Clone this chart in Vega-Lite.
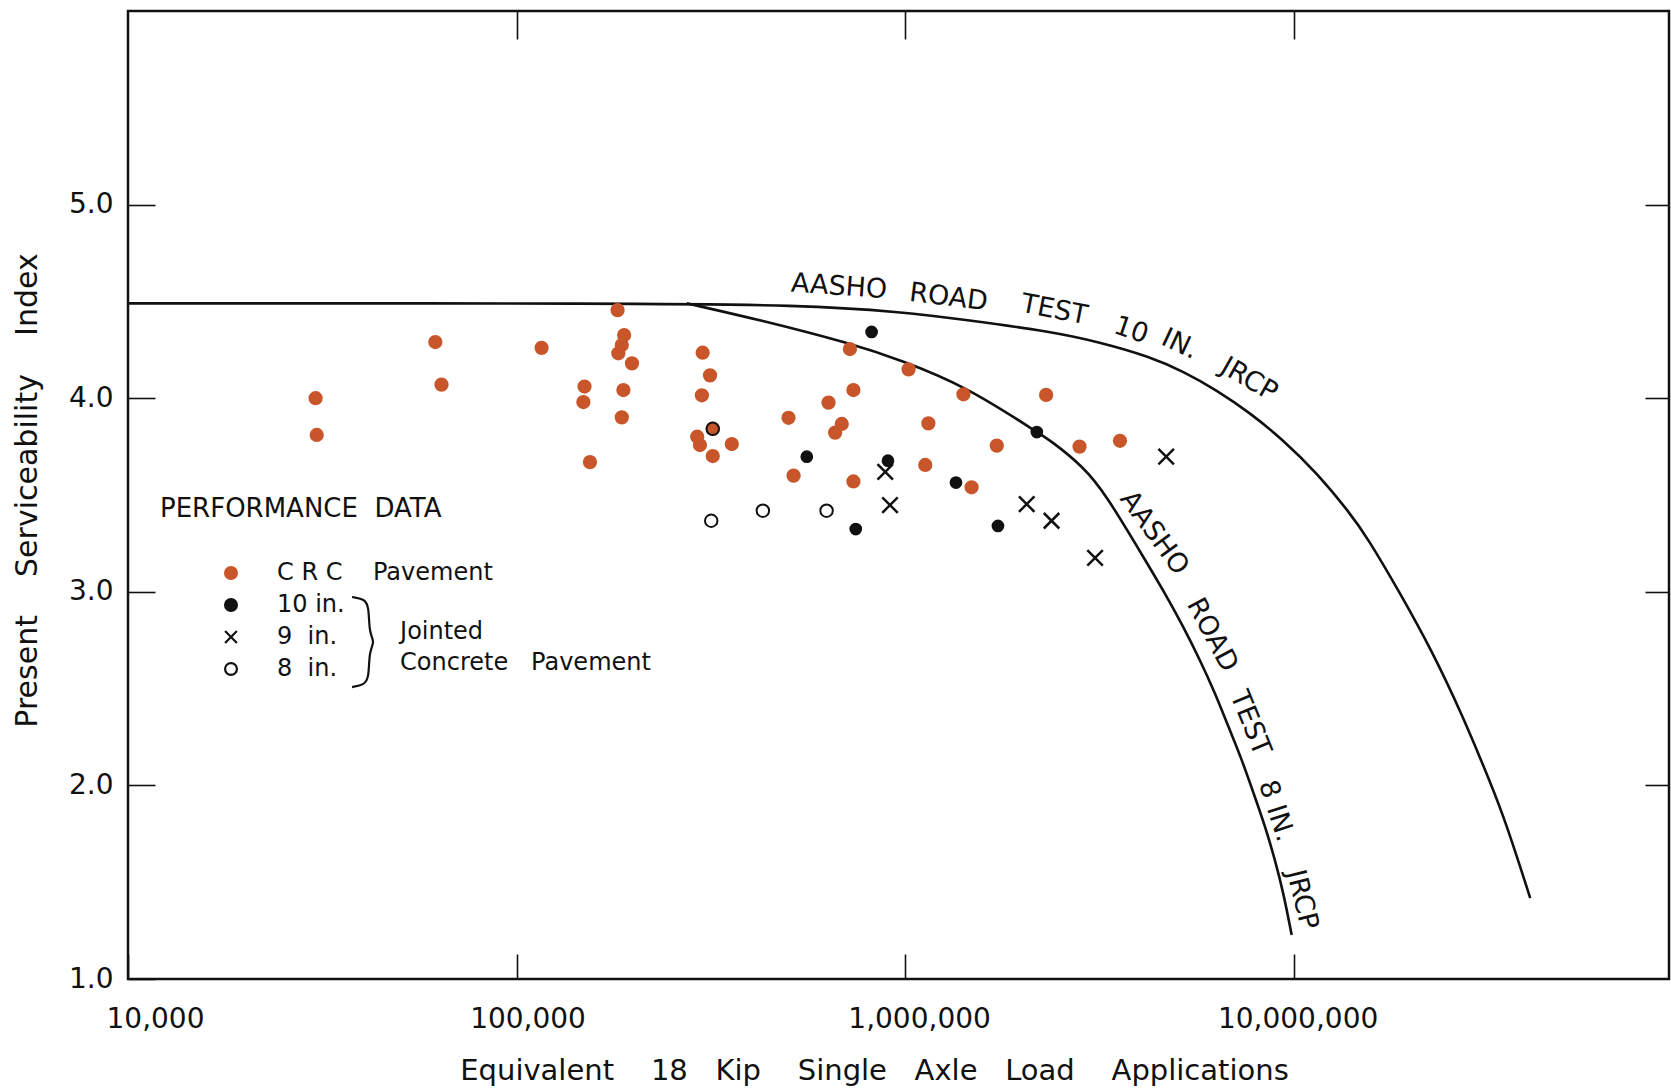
{
  "$schema": "https://vega.github.io/schema/vega-lite/v6.json",
  "width": 1541,
  "height": 968,
  "autosize": {"type": "none"},
  "padding": {"left": 128, "top": 11, "right": 2, "bottom": 111},
  "background": "white",
  "config": {
    "font": "DejaVu Sans",
    "view": {"stroke": "#111111", "strokeWidth": 2.5},
    "axis": {"domain": false, "grid": false, "tickColor": "#111111", "tickWidth": 1.6, "labelColor": "#111111", "titleColor": "#111111", "labelFont": "DejaVu Sans", "titleFont": "DejaVu Sans", "titleFontWeight": "normal"}
  },
  "resolve": {"axis": {"x": "independent", "y": "independent"}},
  "datasets": {
    "curves": [
      {"curve": "10 in.", "esal": 10000, "psi": 4.49},
      {"curve": "10 in.", "esal": 199500, "psi": 4.49},
      {"curve": "10 in.", "esal": 537000, "psi": 4.481},
      {"curve": "10 in.", "esal": 970500, "psi": 4.447},
      {"curve": "10 in.", "esal": 1442000, "psi": 4.404},
      {"curve": "10 in.", "esal": 2360000, "psi": 4.345},
      {"curve": "10 in.", "esal": 3162000, "psi": 4.29},
      {"curve": "10 in.", "esal": 4276000, "psi": 4.214},
      {"curve": "10 in.", "esal": 5200000, "psi": 4.138},
      {"curve": "10 in.", "esal": 6339000, "psi": 4.042},
      {"curve": "10 in.", "esal": 7727000, "psi": 3.924},
      {"curve": "10 in.", "esal": 9397000, "psi": 3.784},
      {"curve": "10 in.", "esal": 11480000, "psi": 3.614},
      {"curve": "10 in.", "esal": 13960000, "psi": 3.407},
      {"curve": "10 in.", "esal": 15450000, "psi": 3.283},
      {"curve": "10 in.", "esal": 18790000, "psi": 2.994},
      {"curve": "10 in.", "esal": 22860000, "psi": 2.684},
      {"curve": "10 in.", "esal": 27290000, "psi": 2.353},
      {"curve": "10 in.", "esal": 30130000, "psi": 2.147},
      {"curve": "10 in.", "esal": 34590000, "psi": 1.857},
      {"curve": "10 in.", "esal": 40640000, "psi": 1.418},
      {"curve": "8 in.", "esal": 274200, "psi": 4.49},
      {"curve": "8 in.", "esal": 423600, "psi": 4.404},
      {"curve": "8 in.", "esal": 721100, "psi": 4.284},
      {"curve": "8 in.", "esal": 970500, "psi": 4.198},
      {"curve": "8 in.", "esal": 1442000, "psi": 4.059},
      {"curve": "8 in.", "esal": 2183000, "psi": 3.825},
      {"curve": "8 in.", "esal": 2360000, "psi": 3.784},
      {"curve": "8 in.", "esal": 2877000, "psi": 3.646},
      {"curve": "8 in.", "esal": 3273000, "psi": 3.509},
      {"curve": "8 in.", "esal": 4150000, "psi": 3.164},
      {"curve": "8 in.", "esal": 4667000, "psi": 2.992},
      {"curve": "8 in.", "esal": 5200000, "psi": 2.82},
      {"curve": "8 in.", "esal": 5741000, "psi": 2.648},
      {"curve": "8 in.", "esal": 6281000, "psi": 2.476},
      {"curve": "8 in.", "esal": 6792000, "psi": 2.304},
      {"curve": "8 in.", "esal": 7362000, "psi": 2.132},
      {"curve": "8 in.", "esal": 7889000, "psi": 1.959},
      {"curve": "8 in.", "esal": 8453000, "psi": 1.787},
      {"curve": "8 in.", "esal": 8954000, "psi": 1.615},
      {"curve": "8 in.", "esal": 9419000, "psi": 1.443},
      {"curve": "8 in.", "esal": 9886000, "psi": 1.227}
    ],
    "perf": [
      {"type": "CRC", "esal": 30400, "psi": 4.0},
      {"type": "CRC", "esal": 30600, "psi": 3.81},
      {"type": "CRC", "esal": 61800, "psi": 4.29},
      {"type": "CRC", "esal": 64100, "psi": 4.07},
      {"type": "CRC", "esal": 116000, "psi": 4.26},
      {"type": "CRC", "esal": 149600, "psi": 4.06},
      {"type": "CRC", "esal": 148600, "psi": 3.98},
      {"type": "CRC", "esal": 154500, "psi": 3.67},
      {"type": "CRC", "esal": 182000, "psi": 4.455},
      {"type": "CRC", "esal": 189200, "psi": 4.326},
      {"type": "CRC", "esal": 186600, "psi": 4.275},
      {"type": "CRC", "esal": 182800, "psi": 4.232},
      {"type": "CRC", "esal": 198200, "psi": 4.18},
      {"type": "CRC", "esal": 188400, "psi": 4.042},
      {"type": "CRC", "esal": 186600, "psi": 3.901},
      {"type": "CRC", "esal": 301300, "psi": 4.235},
      {"type": "CRC", "esal": 314800, "psi": 4.118},
      {"type": "CRC", "esal": 299900, "psi": 4.015},
      {"type": "CRC", "esal": 291700, "psi": 3.801},
      {"type": "CRC", "esal": 296500, "psi": 3.758},
      {"type": "CRC", "esal": 319900, "psi": 3.842},
      {"type": "CRC", "esal": 319900, "psi": 3.701},
      {"type": "CRC", "esal": 358100, "psi": 3.763},
      {"type": "CRC", "esal": 501200, "psi": 3.899},
      {"type": "CRC", "esal": 516400, "psi": 3.6},
      {"type": "CRC", "esal": 635300, "psi": 3.977},
      {"type": "CRC", "esal": 660700, "psi": 3.822},
      {"type": "CRC", "esal": 687100, "psi": 3.867},
      {"type": "CRC", "esal": 721100, "psi": 4.254},
      {"type": "CRC", "esal": 736200, "psi": 4.042},
      {"type": "CRC", "esal": 736200, "psi": 3.57},
      {"type": "CRC", "esal": 1021000, "psi": 4.149},
      {"type": "CRC", "esal": 1148000, "psi": 3.87},
      {"type": "CRC", "esal": 1127000, "psi": 3.655},
      {"type": "CRC", "esal": 1413000, "psi": 4.02},
      {"type": "CRC", "esal": 1483000, "psi": 3.54},
      {"type": "CRC", "esal": 1722000, "psi": 3.755},
      {"type": "CRC", "esal": 2307000, "psi": 4.017},
      {"type": "CRC", "esal": 2812000, "psi": 3.75},
      {"type": "CRC", "esal": 3573000, "psi": 3.78},
      {"type": "10 in.", "esal": 820000, "psi": 4.342},
      {"type": "10 in.", "esal": 558500, "psi": 3.698},
      {"type": "10 in.", "esal": 903600, "psi": 3.677},
      {"type": "10 in.", "esal": 1352000, "psi": 3.564},
      {"type": "10 in.", "esal": 746500, "psi": 3.324},
      {"type": "10 in.", "esal": 1734000, "psi": 3.34},
      {"type": "10 in.", "esal": 2183000, "psi": 3.825},
      {"type": "9 in.", "esal": 889000, "psi": 3.62},
      {"type": "9 in.", "esal": 914500, "psi": 3.448},
      {"type": "9 in.", "esal": 2056000, "psi": 3.453},
      {"type": "9 in.", "esal": 2382000, "psi": 3.367},
      {"type": "9 in.", "esal": 3083000, "psi": 3.175},
      {"type": "9 in.", "esal": 4699000, "psi": 3.698},
      {"type": "8 in.", "esal": 317000, "psi": 3.367},
      {"type": "8 in.", "esal": 430500, "psi": 3.419},
      {"type": "8 in.", "esal": 628000, "psi": 3.419},
      {"type": "8 in.", "esal": 319900, "psi": 3.842}
    ],
    "brace": [
      {"i": 1, "esal": 37730, "psi": 2.973},
      {"i": 2, "esal": 40510, "psi": 2.963},
      {"i": 3, "esal": 41720, "psi": 2.927},
      {"i": 4, "esal": 41720, "psi": 2.787},
      {"i": 5, "esal": 43230, "psi": 2.741},
      {"i": 6, "esal": 41720, "psi": 2.694},
      {"i": 7, "esal": 41720, "psi": 2.555},
      {"i": 8, "esal": 40510, "psi": 2.519},
      {"i": 9, "esal": 37730, "psi": 2.508}
    ]
  },
  "layer": [
    {
      "data": {"name": "curves"},
      "mark": {"type": "line", "color": "#111111", "strokeWidth": 2.6, "interpolate": "basis"},
      "encoding": {
        "x": {"field": "esal", "type": "quantitative", "scale": {"type": "log", "domain": [10000, 92500000], "nice": false},
          "axis": {"orient": "bottom", "values": [10000, 100000, 1000000, 10000000], "format": ",d", "tickSize": -25, "labelFontSize": 28, "labelPadding": 51, "labelFlush": false, "labelOverlap": false, "labelBound": false,
            "labelOffset": {"condition": [{"test": "datum.value == 10000", "value": 27}, {"test": "datum.value == 100000", "value": 11}, {"test": "datum.value == 1000000", "value": 14}], "value": 4},
            "title": "Equivalent\u00a0\u00a0\u00a0\u00a018\u00a0\u00a0\u00a0Kip\u00a0\u00a0\u00a0\u00a0Single\u00a0\u00a0\u00a0Axle\u00a0\u00a0\u00a0Load\u00a0\u00a0\u00a0\u00a0Applications",
            "titleFontSize": 29, "titleX": 746, "titleY": 100, "titleAlign": "center", "titleBaseline": "alphabetic"}},
        "y": {"field": "psi", "type": "quantitative", "scale": {"domain": [1, 6], "nice": false, "zero": false},
          "axis": {"orient": "left", "values": [1, 2, 3, 4, 5], "format": ".1f", "tickSize": -27, "labelFontSize": 28, "labelPadding": 42, "labelFlush": false, "labelOverlap": false,
            "title": "Present\u00a0\u00a0\u00a0\u00a0Serviceability\u00a0\u00a0\u00a0\u00a0Index", "titleFontSize": 30, "titleAngle": -90, "titleX": -101, "titleY": 479, "titleAlign": "center", "titleBaseline": "middle"}},
        "detail": {"field": "curve", "type": "nominal"}
      }
    },
    {
      "data": {"name": "perf"},
      "transform": [{"filter": "datum.type == 'CRC'"}],
      "mark": {"type": "point", "size": 150, "strokeWidth": 2, "opacity": 1},
      "encoding": {
        "x": {"field": "esal", "type": "quantitative", "scale": {"type": "log", "domain": [10000, 92500000], "nice": false},
          "axis": {"orient": "top", "values": [100000, 1000000, 10000000], "tickSize": -28, "labels": false, "title": null}},
        "y": {"field": "psi", "type": "quantitative", "scale": {"domain": [1, 6], "nice": false, "zero": false},
          "axis": {"orient": "right", "values": [2, 3, 4, 5], "tickSize": -24, "labels": false, "title": null}},
        "shape": {"field": "type", "type": "nominal", "scale": {"domain": ["CRC", "10 in.", "9 in.", "8 in."], "range": ["circle", "circle", "M-1,-1L1,1M-1,1L1,-1", "circle"]},
          "legend": {"title": "PERFORMANCE\u00a0\u00a0DATA", "orient": "none", "legendX": 32, "legendY": 485, "padding": 0, "titleFontSize": 26, "titleFontWeight": "normal", "titleColor": "#111111", "titleFont": "DejaVu Sans", "titlePadding": 39, "titleAnchor": "start", "titleLimit": 800, "labelFontSize": 24, "labelColor": "#111111", "labelFont": "DejaVu Sans", "labelExpr": "datum.value == 'CRC' ? 'C R C\u00a0\u00a0\u00a0\u00a0Pavement' : datum.value == '10 in.' ? '10 in.' : datum.value == '9 in.' ? '9\u00a0\u00a0in.' : '8\u00a0\u00a0in.'", "rowPadding": 8, "symbolOffset": 59, "labelOffset": 34, "symbolSize": 140, "symbolStrokeWidth": 2.2, "symbolOpacity": 1, "labelLimit": 400}},
        "fill": {"field": "type", "type": "nominal", "scale": {"domain": ["CRC", "10 in.", "9 in.", "8 in."], "range": ["#c8562a", "#111111", "transparent", "transparent"]}},
        "stroke": {"field": "type", "type": "nominal", "scale": {"domain": ["CRC", "10 in.", "9 in.", "8 in."], "range": ["#c8562a", "#111111", "#111111", "#111111"]}}
      }
    },
    {
      "data": {"name": "perf"},
      "transform": [{"filter": "datum.type == '10 in.'"}],
      "mark": {"type": "point", "size": 115, "strokeWidth": 2, "opacity": 1},
      "encoding": {
        "x": {"field": "esal", "type": "quantitative", "scale": {"type": "log", "domain": [10000, 92500000], "nice": false}, "axis": null},
        "y": {"field": "psi", "type": "quantitative", "scale": {"domain": [1, 6], "nice": false, "zero": false}, "axis": null},
        "shape": {"field": "type", "type": "nominal", "scale": {"domain": ["CRC", "10 in.", "9 in.", "8 in."], "range": ["circle", "circle", "M-1,-1L1,1M-1,1L1,-1", "circle"]}},
        "fill": {"field": "type", "type": "nominal", "scale": {"domain": ["CRC", "10 in.", "9 in.", "8 in."], "range": ["#c8562a", "#111111", "transparent", "transparent"]}},
        "stroke": {"field": "type", "type": "nominal", "scale": {"domain": ["CRC", "10 in.", "9 in.", "8 in."], "range": ["#c8562a", "#111111", "#111111", "#111111"]}}
      }
    },
    {
      "data": {"name": "perf"},
      "transform": [{"filter": "datum.type == '9 in.'"}],
      "mark": {"type": "point", "size": 240, "strokeWidth": 2.5, "opacity": 1},
      "encoding": {
        "x": {"field": "esal", "type": "quantitative", "scale": {"type": "log", "domain": [10000, 92500000], "nice": false}, "axis": null},
        "y": {"field": "psi", "type": "quantitative", "scale": {"domain": [1, 6], "nice": false, "zero": false}, "axis": null},
        "shape": {"field": "type", "type": "nominal", "scale": {"domain": ["CRC", "10 in.", "9 in.", "8 in."], "range": ["circle", "circle", "M-1,-1L1,1M-1,1L1,-1", "circle"]}},
        "fill": {"field": "type", "type": "nominal", "scale": {"domain": ["CRC", "10 in.", "9 in.", "8 in."], "range": ["#c8562a", "#111111", "transparent", "transparent"]}},
        "stroke": {"field": "type", "type": "nominal", "scale": {"domain": ["CRC", "10 in.", "9 in.", "8 in."], "range": ["#c8562a", "#111111", "#111111", "#111111"]}}
      }
    },
    {
      "data": {"name": "perf"},
      "transform": [{"filter": "datum.type == '8 in.'"}],
      "mark": {"type": "point", "size": 155, "strokeWidth": 2, "opacity": 1},
      "encoding": {
        "x": {"field": "esal", "type": "quantitative", "scale": {"type": "log", "domain": [10000, 92500000], "nice": false}, "axis": null},
        "y": {"field": "psi", "type": "quantitative", "scale": {"domain": [1, 6], "nice": false, "zero": false}, "axis": null},
        "shape": {"field": "type", "type": "nominal", "scale": {"domain": ["CRC", "10 in.", "9 in.", "8 in."], "range": ["circle", "circle", "M-1,-1L1,1M-1,1L1,-1", "circle"]}},
        "fill": {"field": "type", "type": "nominal", "scale": {"domain": ["CRC", "10 in.", "9 in.", "8 in."], "range": ["#c8562a", "#111111", "transparent", "transparent"]}},
        "stroke": {"field": "type", "type": "nominal", "scale": {"domain": ["CRC", "10 in.", "9 in.", "8 in."], "range": ["#c8562a", "#111111", "#111111", "#111111"]}}
      }
    },
    {
      "data": {"name": "brace"},
      "mark": {"type": "line", "color": "#111111", "strokeWidth": 2.2, "interpolate": "basis"},
      "encoding": {
        "x": {"field": "esal", "type": "quantitative", "scale": {"type": "log", "domain": [10000, 92500000], "nice": false}, "axis": null},
        "y": {"field": "psi", "type": "quantitative", "scale": {"domain": [1, 6], "nice": false, "zero": false}, "axis": null},
        "order": {"field": "i", "type": "quantitative"}
      }
    },
    {
      "data": {"values": [{"esal": 50140, "psi": 2.792, "note": "Jointed"}, {"esal": 50140, "psi": 2.632, "note": "Concrete\u00a0\u00a0\u00a0Pavement"}]},
      "mark": {"type": "text", "align": "left", "baseline": "middle", "fontSize": 24, "color": "#111111"},
      "encoding": {
        "x": {"field": "esal", "type": "quantitative", "scale": {"type": "log", "domain": [10000, 92500000], "nice": false}, "axis": null},
        "y": {"field": "psi", "type": "quantitative", "scale": {"domain": [1, 6], "nice": false, "zero": false}, "axis": null},
        "text": {"field": "note", "type": "nominal"}
      }
    },
    {
      "data": {"values": [{"esal": 676100, "psi": 4.575, "word": "AASHO"}]},
      "mark": {"type": "text", "angle": 4, "align": "center", "baseline": "middle", "fontSize": 27, "color": "#111111"},
      "encoding": {
        "x": {"field": "esal", "type": "quantitative", "scale": {"type": "log", "domain": [10000, 92500000], "nice": false}, "axis": null},
        "y": {"field": "psi", "type": "quantitative", "scale": {"domain": [1, 6], "nice": false, "zero": false}, "axis": null},
        "text": {"field": "word", "type": "nominal"}
      }
    },
    {
      "data": {"values": [{"esal": 1294000, "psi": 4.52, "word": "ROAD"}]},
      "mark": {"type": "text", "angle": 7, "align": "center", "baseline": "middle", "fontSize": 27, "color": "#111111"},
      "encoding": {
        "x": {"field": "esal", "type": "quantitative", "scale": {"type": "log", "domain": [10000, 92500000], "nice": false}, "axis": null},
        "y": {"field": "psi", "type": "quantitative", "scale": {"domain": [1, 6], "nice": false, "zero": false}, "axis": null},
        "text": {"field": "word", "type": "nominal"}
      }
    },
    {
      "data": {"values": [{"esal": 2421000, "psi": 4.455, "word": "TEST"}]},
      "mark": {"type": "text", "angle": 11, "align": "center", "baseline": "middle", "fontSize": 27, "color": "#111111"},
      "encoding": {
        "x": {"field": "esal", "type": "quantitative", "scale": {"type": "log", "domain": [10000, 92500000], "nice": false}, "axis": null},
        "y": {"field": "psi", "type": "quantitative", "scale": {"domain": [1, 6], "nice": false, "zero": false}, "axis": null},
        "text": {"field": "word", "type": "nominal"}
      }
    },
    {
      "data": {"values": [{"esal": 3819000, "psi": 4.35, "word": "10"}]},
      "mark": {"type": "text", "angle": 19, "align": "center", "baseline": "middle", "fontSize": 27, "color": "#111111"},
      "encoding": {
        "x": {"field": "esal", "type": "quantitative", "scale": {"type": "log", "domain": [10000, 92500000], "nice": false}, "axis": null},
        "y": {"field": "psi", "type": "quantitative", "scale": {"domain": [1, 6], "nice": false, "zero": false}, "axis": null},
        "text": {"field": "word", "type": "nominal"}
      }
    },
    {
      "data": {"values": [{"esal": 5093000, "psi": 4.278, "word": "IN."}]},
      "mark": {"type": "text", "angle": 25, "align": "center", "baseline": "middle", "fontSize": 27, "color": "#111111"},
      "encoding": {
        "x": {"field": "esal", "type": "quantitative", "scale": {"type": "log", "domain": [10000, 92500000], "nice": false}, "axis": null},
        "y": {"field": "psi", "type": "quantitative", "scale": {"domain": [1, 6], "nice": false, "zero": false}, "axis": null},
        "text": {"field": "word", "type": "nominal"}
      }
    },
    {
      "data": {"values": [{"esal": 7674000, "psi": 4.095, "word": "JRCP"}]},
      "mark": {"type": "text", "angle": 30, "align": "center", "baseline": "middle", "fontSize": 27, "color": "#111111"},
      "encoding": {
        "x": {"field": "esal", "type": "quantitative", "scale": {"type": "log", "domain": [10000, 92500000], "nice": false}, "axis": null},
        "y": {"field": "psi", "type": "quantitative", "scale": {"domain": [1, 6], "nice": false, "zero": false}, "axis": null},
        "text": {"field": "word", "type": "nominal"}
      }
    },
    {
      "data": {"values": [{"esal": 4375000, "psi": 3.304, "word": "AASHO"}]},
      "mark": {"type": "text", "angle": 54, "align": "center", "baseline": "middle", "fontSize": 27, "color": "#111111"},
      "encoding": {
        "x": {"field": "esal", "type": "quantitative", "scale": {"type": "log", "domain": [10000, 92500000], "nice": false}, "axis": null},
        "y": {"field": "psi", "type": "quantitative", "scale": {"domain": [1, 6], "nice": false, "zero": false}, "axis": null},
        "text": {"field": "word", "type": "nominal"}
      }
    },
    {
      "data": {"values": [{"esal": 6166000, "psi": 2.777, "word": "ROAD"}]},
      "mark": {"type": "text", "angle": 62, "align": "center", "baseline": "middle", "fontSize": 27, "color": "#111111"},
      "encoding": {
        "x": {"field": "esal", "type": "quantitative", "scale": {"type": "log", "domain": [10000, 92500000], "nice": false}, "axis": null},
        "y": {"field": "psi", "type": "quantitative", "scale": {"domain": [1, 6], "nice": false, "zero": false}, "axis": null},
        "text": {"field": "word", "type": "nominal"}
      }
    },
    {
      "data": {"values": [{"esal": 7727000, "psi": 2.322, "word": "TEST"}]},
      "mark": {"type": "text", "angle": 68, "align": "center", "baseline": "middle", "fontSize": 27, "color": "#111111"},
      "encoding": {
        "x": {"field": "esal", "type": "quantitative", "scale": {"type": "log", "domain": [10000, 92500000], "nice": false}, "axis": null},
        "y": {"field": "psi", "type": "quantitative", "scale": {"domain": [1, 6], "nice": false, "zero": false}, "axis": null},
        "text": {"field": "word", "type": "nominal"}
      }
    },
    {
      "data": {"values": [{"esal": 9016000, "psi": 1.868, "word": "8 IN."}]},
      "mark": {"type": "text", "angle": 72, "align": "center", "baseline": "middle", "fontSize": 27, "color": "#111111"},
      "encoding": {
        "x": {"field": "esal", "type": "quantitative", "scale": {"type": "log", "domain": [10000, 92500000], "nice": false}, "axis": null},
        "y": {"field": "psi", "type": "quantitative", "scale": {"domain": [1, 6], "nice": false, "zero": false}, "axis": null},
        "text": {"field": "word", "type": "nominal"}
      }
    },
    {
      "data": {"values": [{"esal": 10500000, "psi": 1.41, "word": "JRCP"}]},
      "mark": {"type": "text", "angle": 76, "align": "center", "baseline": "middle", "fontSize": 27, "color": "#111111"},
      "encoding": {
        "x": {"field": "esal", "type": "quantitative", "scale": {"type": "log", "domain": [10000, 92500000], "nice": false}, "axis": null},
        "y": {"field": "psi", "type": "quantitative", "scale": {"domain": [1, 6], "nice": false, "zero": false}, "axis": null},
        "text": {"field": "word", "type": "nominal"}
      }
    }
  ]
}
